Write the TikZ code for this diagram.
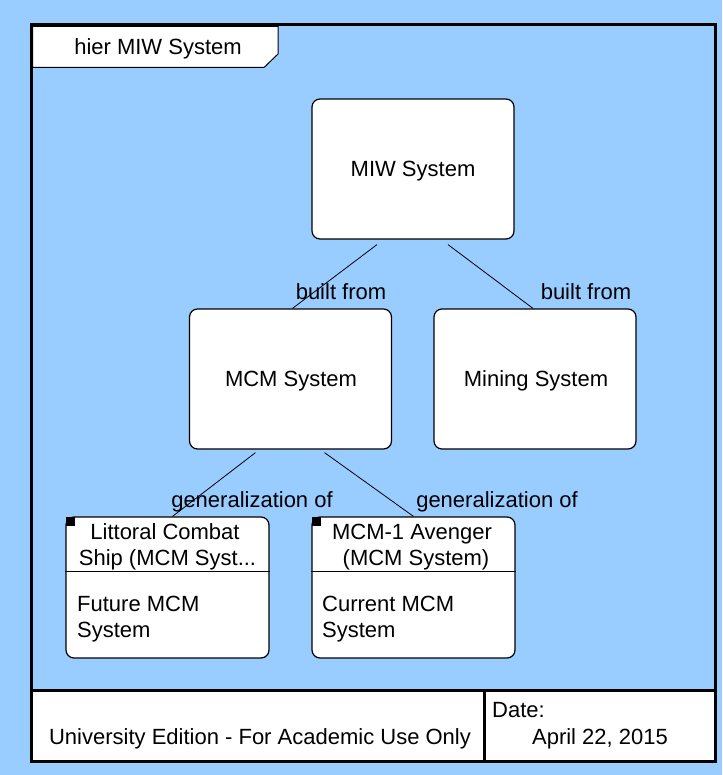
\documentclass[tikz,border=0pt]{standalone}
\usepackage{fontspec}
\setmainfont{Liberation Sans}
\usetikzlibrary{calc}
\definecolor{bg}{HTML}{99CCFF}
\begin{document}
\begin{tikzpicture}[x=1pt,y=-1pt,
  font=\fontsize{22}{26}\selectfont,
  blk/.style={draw=black, fill=white, rounded corners=8pt, line width=1.2pt,
    minimum width=202pt, minimum height=140pt, inner sep=0pt},
  cls/.style={blk, minimum width=203pt, minimum height=141pt},
  conn/.style={draw=black, line width=0.8pt},
  txt/.style={inner sep=0pt, anchor=base},
  ltxt/.style={inner sep=0pt, anchor=base west}]
\fill[bg] (0,0) rectangle (722,775);
\useasboundingbox (0,0) rectangle (722,775);
% frame
\fill[white] (32,691) rectangle (714,760);
\draw[line width=3pt] (31,25) rectangle (715,761);
\draw[line width=3pt] (31,690) -- (715,690);
\draw[line width=3pt] (484,690) -- (484,761);
% title tab
\draw[fill=white, line width=1pt] (32.5,26.5) -- (278,26.5) -- (278,54) -- (264,67.5) -- (32.5,67.5) -- cycle;
\node[txt] (title) at (158,55) {hier MIW System};
% blocks
\node[blk] (miw) at (413,169) {};
\node[txt] (miwt) at (413,177) {MIW System};
\node[blk] (mcm) at (290.5,379) {};
\node[txt] (mcmt) at (291,386) {MCM System};
\node[blk] (mining) at (535,379) {};
\node[txt] (miningt) at (536,386) {Mining System};
% class boxes
\node[cls] (lcs) at (167.5,587.5) {};
\draw[line width=1.2pt] ($(lcs.north west)+(0,55)$) -- ($(lcs.north east)+(0,55)$);
\fill ($(lcs.north west)+(0.5,0.5)$) rectangle ++(9,9);
\node[txt] (lcs1) at (165,539) {Littoral Combat};
\node[txt] (lcs2) at (167.5,565) {Ship (MCM Syst...};
\node[ltxt] (lcs3) at (77,611) {Future MCM};
\node[ltxt] (lcs4) at (77,637) {System};
\node[cls] (av) at (413.5,587.5) {};
\draw[line width=1.2pt] ($(av.north west)+(0,55)$) -- ($(av.north east)+(0,55)$);
\fill ($(av.north west)+(0.5,0.5)$) rectangle ++(9,9);
\node[txt] (av1) at (412,539) {MCM-1 Avenger};
\node[txt] (av2) at (416,565) {(MCM System)};
\node[ltxt] (av3) at (322,611) {Current MCM};
\node[ltxt] (av4) at (322,637) {System};
% connectors
\draw[conn] ($(miw.south)+(-36,5)$) -- ($(mcm.north)+(2,0)$);
\draw[conn] ($(miw.south)+(35,5)$) -- ($(mining.north)+(-2,0)$);
\draw[conn] ($(mcm.south)+(-35,3)$) -- ($(lcs.north)+(5,0)$);
\draw[conn] ($(mcm.south)+(34,3)$) -- ($(av.north)+(0,0)$);
\node[txt] (bf1) at (341,299) {built from};
\node[txt] (bf2) at (586,299) {built from};
\node[txt] (g1) at (252,507) {generalization of};
\node[txt] (g2) at (497,507) {generalization of};
% footer
\node[txt] (uni) at (260,744) {University Edition - For Academic Use Only};
\node[ltxt] (date) at (492,717) {Date:};
\node[txt] (dval) at (600,744) {April 22, 2015};
\end{tikzpicture}
\end{document}
